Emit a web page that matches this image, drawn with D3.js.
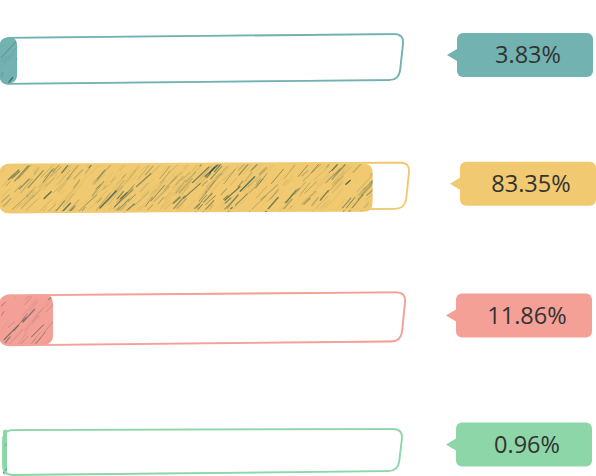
<!DOCTYPE html>
<html><head><meta charset="utf-8">
<script src="https://cdn.jsdelivr.net/npm/d3@7/dist/d3.min.js"></script>
<style>html,body{margin:0;padding:0;background:#fff;}svg{display:block;}</style>
</head><body>
<svg id="c" width="596" height="476"></svg>
<script>
const categories = ["A", "B", "C", "D"];
const values = [3.83, 83.35, 11.86, 0.96];
const labels = ["3.83%", "83.35%", "11.86%", "0.96%"];
const colors = ["#72b2b1", "#f1c970", "#f5a097", "#8dd6a7"];

const svg = d3.select("#c");

const y = d3.scaleBand().domain(categories).range([-3.2, 516.3]).paddingInner(0.625).paddingOuter(0.3);
const x = d3.scaleLinear().domain([0, 100]).range([0, 447]);
const outlineW = 405;

// deterministic PRNG for sketch texture (style only)
let seed = 11;
function rnd(){ seed = (seed * 16807) % 2147483647; return (seed - 1) / 2147483646; }

function roundedQuad(p, r){
  const n = p.length; let d = "";
  for(let i=0;i<n;i++){
    const a = p[(i+n-1)%n], b = p[i], c = p[(i+1)%n];
    const v1 = [a[0]-b[0], a[1]-b[1]], v2 = [c[0]-b[0], c[1]-b[1]];
    const l1 = Math.hypot(...v1), l2 = Math.hypot(...v2);
    const rr = Math.min(r, l1/2, l2/2);
    const s = [b[0]+v1[0]/l1*rr, b[1]+v1[1]/l1*rr];
    const e = [b[0]+v2[0]/l2*rr, b[1]+v2[1]/l2*rr];
    d += (i===0?"M":"L") + s[0]+","+s[1] + "Q" + b[0]+","+b[1]+" "+e[0]+","+e[1];
  }
  return d + "Z";
}

const defs = svg.append("defs");
// hand-drawn jitter (style only)
const topSkew = [-2, 0, -1, 1];
const rightAdj = [-1, 5, 1, -2];
const hAdj = [-1, 1, 3, -2];
const yAdj = [0, -4, -4, 0];
const labelDy = [-5, -4, -4, -7];
const labelDx = [0, 3, -1, -1];

categories.forEach((cat, i) => {
  const y0 = y(cat) + yAdj[i], h = y.bandwidth() + hAdj[i], col = colors[i];
  const g = svg.append("g");
  const xl = i === 3 ? 3 : 0;
  const xr = outlineW + rightAdj[i];
  // fill
  const fx = x(values[i]);
  const fEnd = Math.max(fx, xl + 4);
  const fillPts = [[xl, y0+2], [fEnd, y0+1], [fEnd, y0+h-1], [xl, y0+h]];
  const fillPath = roundedQuad(fillPts, Math.min(9, Math.max(2,(fEnd-xl)/2)));
  const cid = "clip" + i;
  defs.append("clipPath").attr("id", cid).append("path").attr("d", fillPath);
  g.append("path").attr("d", fillPath).attr("fill", col);
  const hg = g.append("g").attr("clip-path", `url(#${cid})`);
  const nLines = Math.round((fEnd - xl) * 1.1);
  for(let k=0;k<nLines;k++){
    const cx = xl + rnd()*(fEnd - xl + 20) - 10;
    const cy = y0 + rnd()*h;
    const len = 5 + rnd()*20;
    const ang = -0.72 - rnd()*0.2;
    const dx = Math.cos(ang)*len/2, dy = Math.sin(ang)*len/2;
    const r = rnd();
    hg.append("line").attr("x1", cx-dx).attr("y1", cy-dy).attr("x2", cx+dx).attr("y2", cy+dy)
      .attr("stroke", "#1e4a44").attr("stroke-width", 0.5 + rnd()*1.0)
      .attr("stroke-opacity", 0.05 + Math.pow(r,3)*0.65).attr("stroke-linecap","round");
  }
  // outline
  const pts = [[xl, y0+2], [xr, y0 + topSkew[i]], [xr - 5, y0 + h - 4], [xl, y0 + h]];
  g.append("path").attr("d", roundedQuad(pts, 10)).attr("fill", "none")
    .attr("stroke", col).attr("stroke-width", 1.8).attr("stroke-linejoin","round");
  g.append("path").attr("d", roundedQuad(pts.map(p=>[p[0]+0.6, p[1]-0.5]), 10)).attr("fill", "none")
    .attr("stroke", col).attr("stroke-width", 0.8).attr("stroke-opacity", 0.6);

  // label callout
  const cy = y0 + h/2 + labelDy[i];
  const bx = 457 + labelDx[i], bw = 136, bh = 44;
  const lg = svg.append("g");
  lg.append("rect").attr("x", bx).attr("y", cy - bh/2).attr("width", bw).attr("height", bh)
    .attr("rx", 6).attr("fill", col);
  lg.append("path").attr("d", `M${bx},${cy-6}L${bx-10},${cy}L${bx},${cy+6}Z`).attr("fill", col);
  lg.append("text").attr("x", bx + bw/2 + 3).attr("y", cy).attr("dy", "0.36em")
    .attr("text-anchor", "middle").attr("font-family", "'Open Sans', 'Noto Sans', sans-serif")
    .attr("font-size", 23.5).attr("fill", "#333").text(labels[i]);
});
</script>
</body></html>
